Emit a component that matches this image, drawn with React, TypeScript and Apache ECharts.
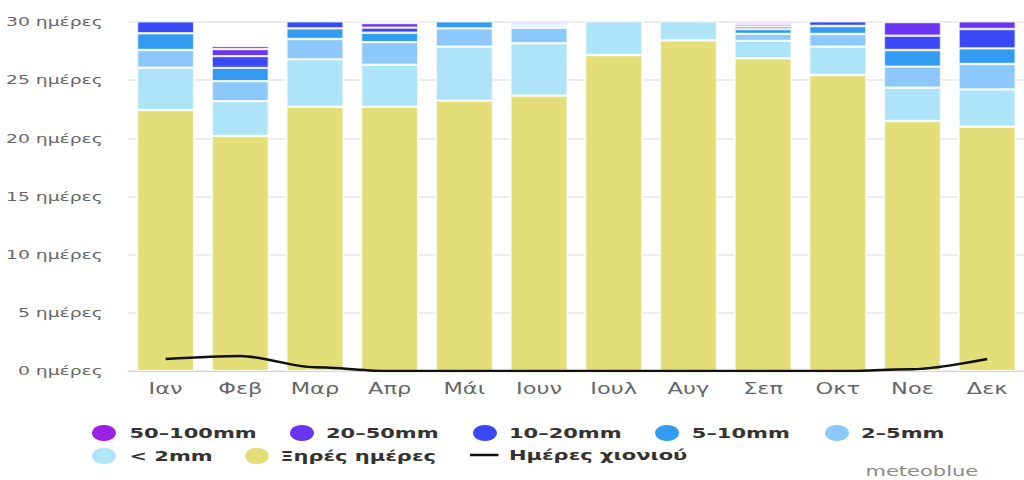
import React, { useEffect, useRef } from "react";
import * as echarts from "echarts";

const months = ["Ιαν", "Φεβ", "Μαρ", "Απρ", "Μάι", "Ιουν", "Ιουλ", "Αυγ", "Σεπ", "Οκτ", "Νοε", "Δεκ"];
const dryDays = [22.44, 20.2, 22.72, 22.72, 23.24, 23.67, 27.16, 28.42, 26.88, 25.45, 21.49, 21.0];
const below2 = [3.63, 3.0, 4.07, 3.6, 4.64, 4.5, 3.5, 2.3, 1.5, 2.43, 2.86, 3.21];
const r2to5 = [1.52, 1.72, 1.75, 1.95, 1.57, 1.34, 0.25, 0.25, 0.6, 1.09, 1.81, 2.18];
const r5to10 = [1.44, 1.14, 0.91, 0.8, 0.8, 0.15, 0.09, 0.03, 0.42, 0.69, 1.43, 1.34];
const r10to20 = [1.3, 1.01, 1.0, 0.45, 0.45, 0.15, 0, 0, 0.22, 0.8, 1.23, 1.67];
const r20to50 = [0.5, 0.6, 0.4, 0.4, 0.25, 0.2, 0, 0, 0.22, 0.4, 1.18, 1.3];
const r50to100 = [0.17, 0.26, 0.15, 0.08, 0.05, 0, 0, 0, 0.16, 0.15, 0, 0.3];
const snowDays = [1.03, 1.29, 0.32, 0, 0, 0, 0, 0, 0, 0, 0.15, 1.03];

const S = 1.5;
const W = 1024 / S;
const FONT = '"DejaVu Sans", Verdana, sans-serif';

export default function App() {
  const ref = useRef<HTMLDivElement>(null);
  useEffect(() => {
    if (!ref.current) return;
    const chart = echarts.init(ref.current, null, { renderer: "svg" });
    const border = { borderColor: "rgba(255,255,255,0.75)", borderWidth: 1.2 };
    const bar = (name: string, data: number[], color: string) => ({
      name,
      type: "bar",
      stack: "days",
      data,
      barWidth: "78%",
      itemStyle: { color, ...border },
      emphasis: { disabled: true },
    });
    const legendText = (pad: number) => ({
      fontSize: 14,
      fontWeight: "bold",
      color: "#333",
      fontFamily: FONT,
      padding: [0, 0, 0, pad],
    });
    const circleLegend = (name: string, left: number, top: number, pad: number) => ({
      data: [{ name, icon: "circle", itemStyle: { borderWidth: 0 } }],
      left,
      top,
      itemWidth: 16,
      itemHeight: 16,
      padding: 0,
      selectedMode: false,
      textStyle: legendText(pad),
    });
    const R1 = 425;
    const R2 = 448;
    chart.setOption({
      animation: false,
      textStyle: { fontFamily: FONT },
      grid: { left: 85.5, top: 22, width: 603.7, height: 349 },
      xAxis: {
        type: "category",
        data: months,
        axisLine: { lineStyle: { color: "#ccd6eb", width: 1 } },
        axisTick: { alignWithLabel: true, length: 10, lineStyle: { color: "#ccd6eb" } },
        axisLabel: { color: "#666", fontSize: 15, margin: 10, fontFamily: FONT },
      },
      yAxis: {
        type: "value",
        min: 0,
        max: 30,
        interval: 5,
        axisLine: { show: false },
        axisTick: { show: false },
        splitLine: { lineStyle: { color: "#e6e6e6", width: 1.5 } },
        axisLabel: { color: "#666", fontSize: 12.5, margin: 17, fontFamily: FONT, formatter: "{value} ημέρες" },
      },
      legend: [
        circleLegend("50–100mm", 61.3, R1, 4),
        circleLegend("20–50mm", 193.3, R1, 3),
        circleLegend("10–20mm", 315.3, R1, 3),
        circleLegend("5–10mm", 436.7, R1, 3.5),
        circleLegend("2–5mm", 550, R1, 3),
        circleLegend("< 2mm", 61.3, R2, 4),
        circleLegend("Ξηρές ημέρες", 163.3, R2, 2.5),
        {
          data: [{ name: "Ημέρες χιονιού", icon: "rect", itemStyle: { color: "#111" } }],
          left: 313.3,
          top: R2,
          itemWidth: 19,
          itemHeight: 2.5,
          padding: 0,
          selectedMode: false,
          textStyle: legendText(2),
        },
      ],
      graphic: [
        {
          type: "text",
          left: 577,
          top: 464,
          style: { text: "meteoblue", fill: "#8a8a8a", font: `14px ${FONT}` },
        },
      ],
      series: [
        bar("Ξηρές ημέρες", dryDays, "#e3de78"),
        bar("< 2mm", below2, "#ade4f7"),
        bar("2–5mm", r2to5, "#8cc8fa"),
        bar("5–10mm", r5to10, "#339cf2"),
        bar("10–20mm", r10to20, "#3a49f5"),
        bar("20–50mm", r20to50, "#6a35f2"),
        bar("50–100mm", r50to100, "#9b22e3"),
        {
          name: "Ημέρες χιονιού",
          type: "line",
          data: snowDays,
          symbol: "none",
          smooth: 0.3,
          smoothMonotone: "x",
          z: 5,
          lineStyle: { color: "#111", width: 2.5 },
          itemStyle: { color: "#111" },
          emphasis: { disabled: true },
        },
      ],
    });
    return () => chart.dispose();
  }, []);
  return (
    <div style={{ position: "fixed", left: 0, top: 0, width: 1024, height: 480, overflow: "hidden", background: "#fff" }}>
      <div ref={ref} style={{ width: W, height: 480, transform: `scaleX(${S})`, transformOrigin: "0 0" }} />
    </div>
  );
}
